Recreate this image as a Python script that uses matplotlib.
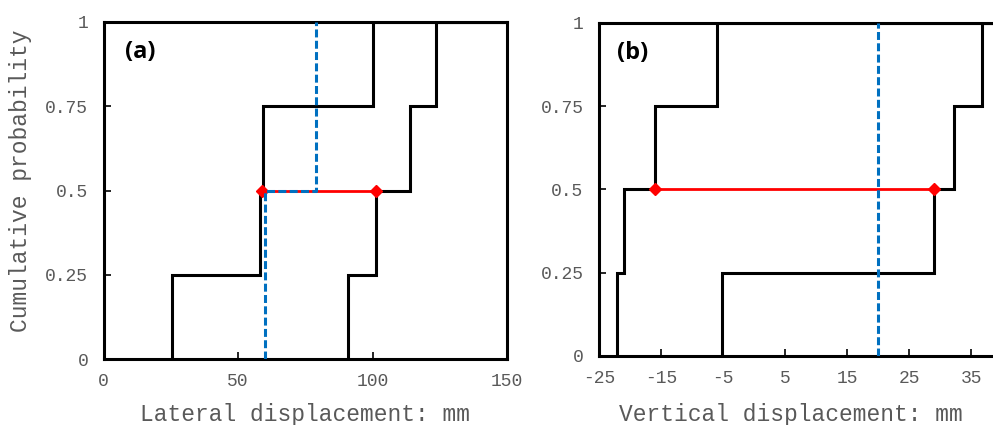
import matplotlib
matplotlib.use("Agg")
import matplotlib.pyplot as plt
import numpy as np

# ---- data ----
prob_levels = [0.25, 0.5, 0.75, 1.0]

# Panel (a): lateral displacement (mm)
lat_lower = [25.5, 58.3, 59.2, 100.3]
lat_upper = [91.0, 101.2, 113.9, 123.6]
lat_red_x = [59.0, 101.2]
lat_red_y = [0.5, 0.5]
lat_blue_x = [60.0, 60.0, 79.0, 79.0]
lat_blue_y = [0.0, 0.5, 0.5, 1.0]
lat_xticks = [0, 50, 100, 150]

# Panel (b): vertical displacement (mm)
ver_lower = [-22.1, -20.9, -16.0, -5.9]
ver_upper = [-5.2, 28.9, 32.2, 36.7]
ver_red_x = [-16.0, 28.9]
ver_red_y = [0.5, 0.5]
ver_blue_x = [20.0, 20.0]
ver_blue_y = [0.0, 1.0]
ver_xticks = [-25, -15, -5, 5, 15, 25, 35]

yticks = [0, 0.25, 0.5, 0.75, 1]
ytick_labels = ["0", "0.25", "0.5", "0.75", "1"]

TXT = "#595959"
MONO = "Liberation Mono"
BLUE = "#0070C0"

fig = plt.figure(figsize=(9.93, 4.25), dpi=100)
ax_a = fig.add_axes([103.5/993, (425-359)/425, 403.5/993, 337/425])
ax_b = fig.add_axes([598.8/993, (425-356)/425, 403.7/993, 333.3/425])


def step_curve(ax, xs, xmax):
    x = [xs[0]] + list(xs) + [xmax]
    y = [0.0] + list(prob_levels) + [1.0]
    ax.step(x, y, where="post", color="black", lw=2.2, solid_joinstyle="miter", zorder=3)


def style(ax, xlim, xticks, xlabel, letter, letter_x, xlab_coords):
    ax.set_xlim(*xlim)
    ax.set_ylim(0, 1)
    ax.set_xticks(xticks)
    ax.set_xticklabels([str(t) for t in xticks])
    ax.set_yticks(yticks)
    ax.set_yticklabels(ytick_labels)
    ax.tick_params(direction="in", length=5, width=1.2, color="black",
                   labelsize=13, labelcolor=TXT, top=False, right=False)
    ax.tick_params(axis="x", pad=10)
    ax.tick_params(axis="y", pad=11)
    for lab in ax.get_xticklabels() + ax.get_yticklabels():
        lab.set_family(MONO)
    for s in ax.spines.values():
        s.set_linewidth(2.2)
        s.set_color("black")
    ax.set_xlabel(xlabel, family=MONO, fontsize=16.5, color=TXT)
    ax.xaxis.set_label_coords(*xlab_coords)
    ax.text(letter_x, 0.91, letter, transform=ax.transData, fontsize=17,
            fontweight="bold", family="Open Sans", ha="center", va="center", color="black")


# Panel (a)
step_curve(ax_a, lat_lower, 150)
step_curve(ax_a, lat_upper, 150)
ax_a.plot(lat_red_x, lat_red_y, color="red", lw=2, marker="D", ms=6, zorder=4)
ax_a.plot(lat_blue_x, lat_blue_y, color=BLUE, lw=2.2, ls=(0, (2.6, 1.1)), zorder=5)
style(ax_a, (0, 150), lat_xticks, "Lateral displacement: mm", "(a)", 13.5, (0.5, -0.13))
ax_a.set_ylabel("Cumulative probability", family=MONO, fontsize=16.5, color=TXT)
ax_a.yaxis.set_label_coords(-0.178, 0.53)

# Panel (b)
step_curve(ax_b, ver_lower, 40)
step_curve(ax_b, ver_upper, 40)
ax_b.plot(ver_red_x, ver_red_y, color="red", lw=2, marker="D", ms=6, zorder=4)
ax_b.plot(ver_blue_x, ver_blue_y, color=BLUE, lw=2.2, ls=(0, (2.6, 1.1)), zorder=5)
style(ax_b, (-25, 40), ver_xticks, "Vertical displacement: mm", "(b)", -19.6, (0.476, -0.14))

fig.savefig("out.png", dpi=100)
